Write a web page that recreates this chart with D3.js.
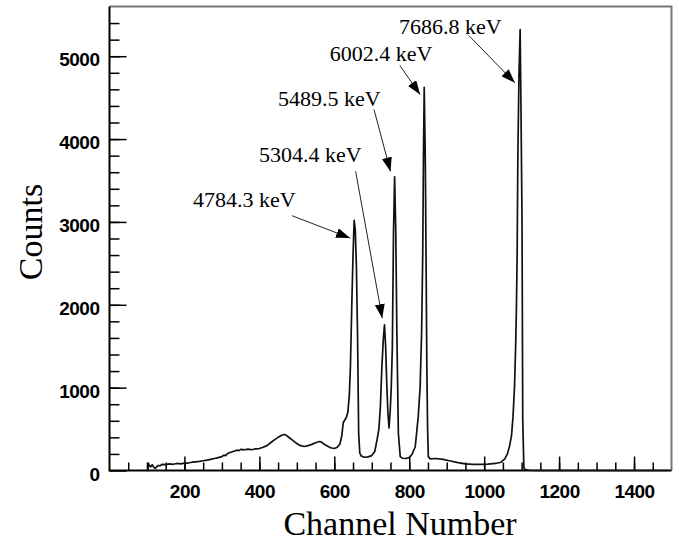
<!DOCTYPE html>
<html>
<head>
<meta charset="utf-8">
<script src="https://cdn.jsdelivr.net/npm/d3@7"></script>
<style>
  body { margin: 0; background: #fff; }
  .tick-label { font-family: "Liberation Sans", Arial, sans-serif; font-weight: bold; font-size: 19px; fill: #000; letter-spacing: -0.5px; }
  .axis-title { font-family: "Liberation Serif", "Times New Roman", serif; font-size: 34px; fill: #000; }
  .peak-label { font-family: "Liberation Serif", "Times New Roman", serif; font-size: 22px; fill: #000; }
</style>
</head>
<body>
<div id="graph"></div>
<script>
// ------DATA------
// spectrum (channel, counts)
const channels = [100, 103, 104, 106, 110, 114, 118, 122, 126, 130, 135, 140, 150, 160, 170, 180, 190,
  200, 210, 220, 230, 240, 250, 260, 270, 280, 290, 300, 305, 310, 315, 320, 330, 340, 345, 350, 360, 370, 380, 390,
  400, 410, 420, 430, 440, 450, 460, 466, 472, 480, 490, 500, 510, 520, 530, 540, 550, 560, 565, 572,
  580, 590, 600, 608, 615, 620, 624, 628, 632, 636, 640, 643, 647, 650, 653, 656, 659, 662, 665, 668,
  672, 680, 690, 700, 708, 714, 719, 723, 727, 731, 734, 737, 740, 743, 746, 749, 752, 755, 758, 761,
  764, 767, 771, 776, 782, 790, 800, 808, 816, 824, 829, 833, 836, 838, 840, 843, 845, 847, 849, 851,
  856, 870, 890, 910, 930, 950, 970, 990, 1010, 1030, 1045, 1055, 1062, 1068, 1073, 1077, 1081, 1084,
  1086, 1088, 1090, 1093, 1096, 1098, 1101, 1103, 1106, 1110, 1120, 1140, 1200, 1300, 1400, 1490]
const counts = [0, 0, 90, 60, 45, 70, 40, 25, 45, 60, 55, 75, 70, 80, 75, 85, 80,
  88, 90, 100, 105, 110, 118, 125, 135, 145, 155, 168, 185, 180, 205, 215, 230, 245, 240, 255, 250, 258, 250, 262,
  265, 280, 300, 335, 370, 400, 425, 435, 425, 395, 360, 325, 300, 290, 300, 315, 335, 350, 345, 320,
  300, 275, 265, 280, 320, 420, 580, 610, 640, 700, 900, 1250, 2060, 2600, 3020, 2900, 2460, 1660, 453, 211,
  175, 160, 165, 180, 230, 368, 500, 770, 1254, 1600, 1757, 1500, 1053, 700, 515, 700, 1000, 1500, 2870, 3545,
  2900, 1660, 450, 167, 148, 145, 155, 200, 287, 650, 1000, 1660, 2600, 3800, 4625, 3700, 2500, 1254, 500, 167,
  140, 145, 135, 115, 95, 80, 75, 75, 78, 85, 100, 140, 200, 300, 420, 650, 1012, 1500,
  1938, 2600, 3830, 4800, 5320, 4500, 3025, 610, 30, 10, 3, 0, 0, 0, 0, 0]

// tick labels
const xTickLabels = [200, 400, 600, 800, 1000, 1200, 1400]
const yTickLabels = [0, 1000, 2000, 3000, 4000, 5000]

// peak annotations (text anchor and arrow ends in data units)
const peakLabels = ["4784.3 keV", "5304.4 keV", "5489.5 keV", "6002.4 keV", "7686.8 keV"]
const labelChannel = [223, 399, 450, 588, 773]
const labelCounts = [3184, 3728, 4404, 4948, 5271]
const arrowFromChannel = [487, 657, 706, 775, 959]
const arrowFromCounts = [3075, 3610, 4356, 4888, 5250]
const arrowToChannel = [642, 728, 750, 829, 1082]
const arrowToCounts = [2806, 1839, 3610, 4537, 4679]

// ------LAYOUT------
const width = 679
const height = 547
const plot = { left: 109.5, right: 671.5, top: 6.5, bottom: 470.5 }

const svg = d3.select('#graph')
  .append('svg')
    .attr('width', width)
    .attr('height', height)

const xScale = d3.scaleLinear().domain([0, 1500]).range([plot.left, plot.right])
const yScale = d3.scaleLinear().domain([0, 5600]).range([plot.bottom, plot.top])

// ------AXES------
// minor ticks (every 50 channels / 200 counts), pointing inward
svg.append('g')
  .attr('transform', `translate(0, ${plot.bottom})`)
  .call(d3.axisBottom(xScale).tickValues(d3.range(50, 1500, 50)).tickSizeInner(-8).tickSizeOuter(0).tickFormat(''))
  .call(g => g.select('.domain').remove())
svg.append('g')
  .attr('transform', `translate(${plot.left}, 0)`)
  .call(d3.axisLeft(yScale).tickValues(d3.range(200, 5600, 200)).tickSizeInner(-10).tickSizeOuter(0).tickFormat(''))
  .call(g => g.select('.domain').remove())

// major ticks with labels (plain numbers, no thousands separator)
svg.append('g')
  .attr('transform', `translate(0, ${plot.bottom})`)
  .call(d3.axisBottom(xScale).tickValues(xTickLabels).tickFormat(d3.format('d')).tickSizeInner(-14).tickSizeOuter(0).tickPadding(14))
  .call(g => g.select('.domain').remove())
  .call(g => g.selectAll('text').attr('class', 'tick-label').attr('fill', null))
svg.append('g')
  .attr('transform', `translate(${plot.left}, 0)`)
  .call(d3.axisLeft(yScale).tickValues(yTickLabels).tickFormat(d3.format('d')).tickSizeInner(-17).tickSizeOuter(0).tickPadding(10))
  .call(g => g.select('.domain').remove())
  .call(g => g.selectAll('text').attr('class', 'tick-label').attr('fill', null).attr('dy', '0.5em'))

svg.selectAll('.tick line').attr('stroke', '#000').attr('stroke-width', 1.5)

// frame: grey on top / right, black axes on left / bottom
svg.append('path')
  .attr('d', `M${plot.left},${plot.top}H${plot.right}V${plot.bottom}`)
  .attr('fill', 'none').attr('stroke', '#777').attr('stroke-width', 2)
svg.append('path')
  .attr('d', `M${plot.left},${plot.top}V${plot.bottom}H${plot.right}`)
  .attr('fill', 'none').attr('stroke', '#000').attr('stroke-width', 2)

// ------SPECTRUM------
const points = channels.map((c, i) => [c, counts[i]])
const line = d3.line()
  .x(d => xScale(d[0]))
  .y(d => yScale(d[1]))

svg.append('path')
  .datum(points)
  .attr('d', line)
  .attr('fill', 'none')
  .attr('stroke', '#111')
  .attr('stroke-width', 1.7)
  .attr('stroke-linejoin', 'round')

// ------ANNOTATIONS------
svg.append('defs').append('marker')
  .attr('id', 'arrow')
  .attr('markerUnits', 'userSpaceOnUse')
  .attr('viewBox', '0 0 14 10')
  .attr('refX', 14).attr('refY', 5)
  .attr('markerWidth', 14).attr('markerHeight', 10)
  .attr('orient', 'auto')
  .append('path')
    .attr('d', 'M0,0L14,5L0,10Z')
    .attr('fill', '#000')

peakLabels.forEach((label, i) => {
  svg.append('line')
    .attr('x1', xScale(arrowFromChannel[i])).attr('y1', yScale(arrowFromCounts[i]))
    .attr('x2', xScale(arrowToChannel[i])).attr('y2', yScale(arrowToCounts[i]))
    .attr('stroke', '#222').attr('stroke-width', 1)
    .attr('marker-end', 'url(#arrow)')
  svg.append('text')
    .attr('class', 'peak-label')
    .attr('x', xScale(labelChannel[i]))
    .attr('y', yScale(labelCounts[i]))
    .text(label)
})

// ------AXIS TITLES------
svg.append('text')
  .attr('class', 'axis-title')
  .attr('transform', 'translate(42, 232) rotate(-90)')
  .style('text-anchor', 'middle')
  .text('Counts')
svg.append('text')
  .attr('class', 'axis-title')
  .attr('x', 400).attr('y', 535)
  .style('text-anchor', 'middle')
  .text('Channel Number')
</script>
</body>
</html>
